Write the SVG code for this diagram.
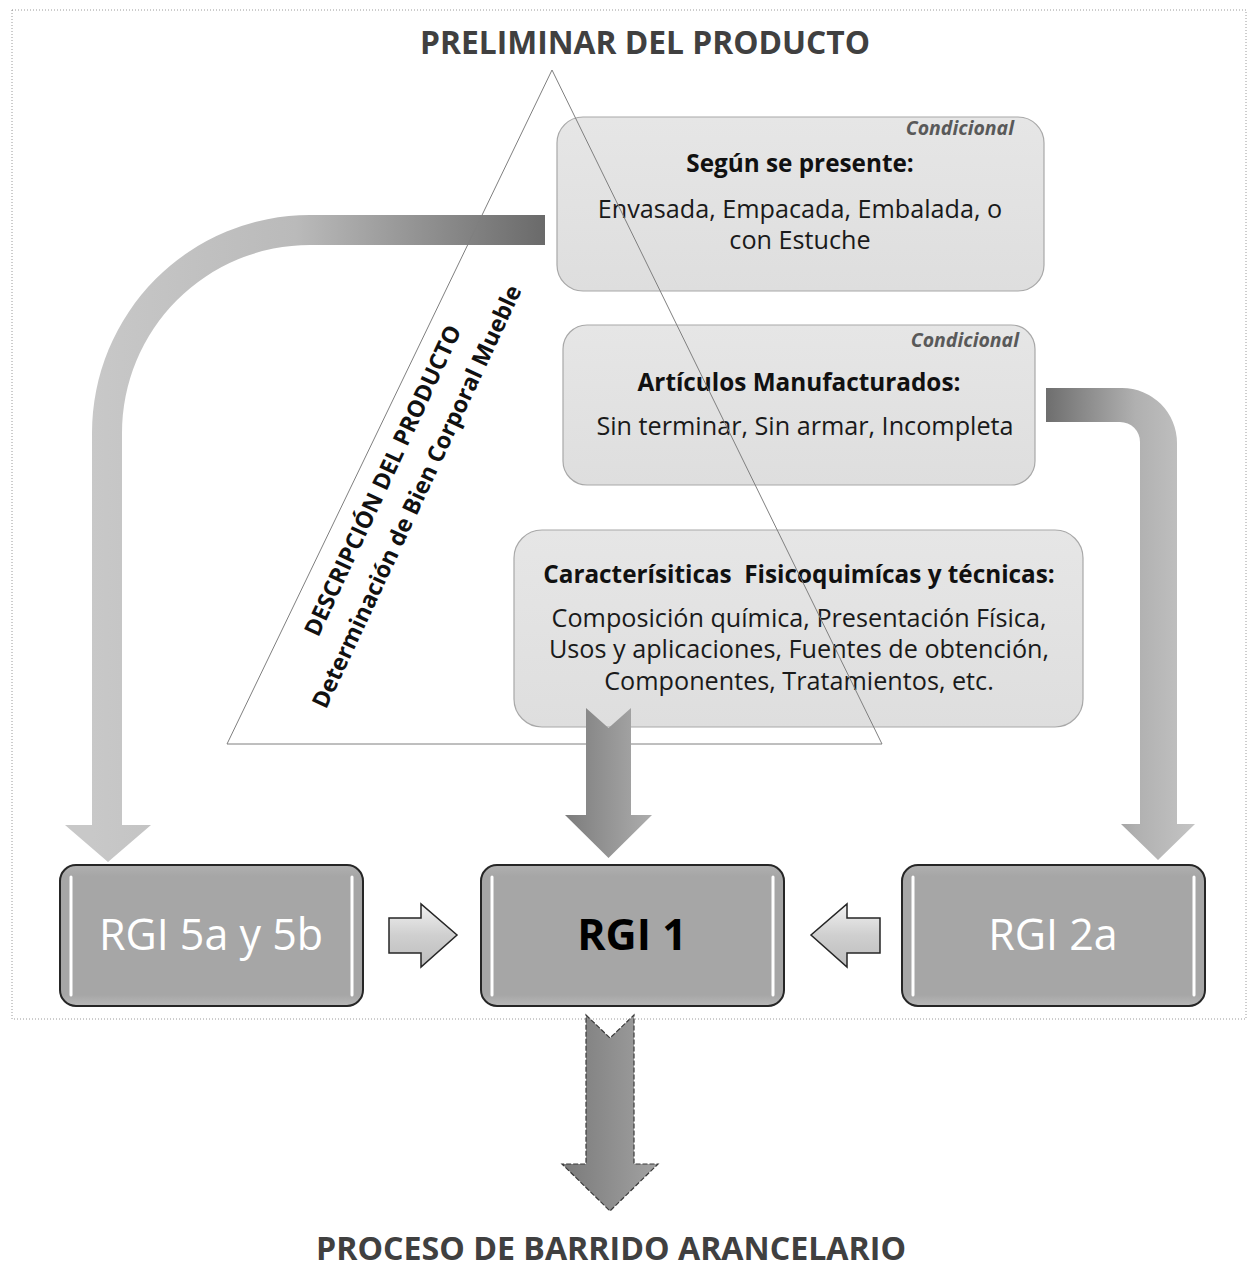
<svg xmlns="http://www.w3.org/2000/svg" width="1248" height="1268" viewBox="0 0 1248 1268">
<style>
text{font-family:"Open Sans","Noto Sans","Liberation Sans",sans-serif;}
.title{font-weight:bold;fill:#404040;text-anchor:middle;}
.cond{font-weight:bold;font-style:italic;font-size:19.5px;fill:#595959;text-anchor:end;}
.head{font-weight:bold;font-size:24.3px;fill:#111;text-anchor:middle;}
.body{font-size:25.2px;fill:#1a1a1a;text-anchor:middle;}
.rot{font-weight:bold;font-size:23.2px;fill:#111;text-anchor:middle;}
.card{fill:url(#cardG);stroke:#a8a8a8;stroke-width:1.2;}
.rgi{fill:url(#rgiG);stroke:#262626;stroke-width:2;}
.hl{stroke:#fff;stroke-width:3;stroke-linecap:round;fill:none;}
.rgitxt{font-size:43px;text-anchor:middle;}
.small{fill:url(#smallG);stroke:#262626;stroke-width:1.5;stroke-linejoin:miter;}
</style>
<defs>
<linearGradient id="cardG" x1="0" y1="0" x2="0" y2="1">
<stop offset="0" stop-color="#e6e6e6"/><stop offset="1" stop-color="#dedede"/>
</linearGradient>
<linearGradient id="rgiG" x1="0" y1="0" x2="0" y2="1">
<stop offset="0" stop-color="#b0b0b0"/><stop offset="0.08" stop-color="#a6a6a6"/><stop offset="0.92" stop-color="#a6a6a6"/><stop offset="1" stop-color="#b8b8b8"/>
</linearGradient>
<linearGradient id="leftG" gradientUnits="userSpaceOnUse" x1="92" y1="0" x2="545" y2="0">
<stop offset="0" stop-color="#c8c8c8"/><stop offset="0.45" stop-color="#bababa"/><stop offset="1" stop-color="#6a6a6a"/>
</linearGradient>
<linearGradient id="rightG" gradientUnits="userSpaceOnUse" x1="1046" y1="0" x2="1195" y2="0">
<stop offset="0" stop-color="#6e6e6e"/><stop offset="0.6" stop-color="#b0b0b0"/><stop offset="1" stop-color="#c4c4c4"/>
</linearGradient>
<linearGradient id="centerG" gradientUnits="userSpaceOnUse" x1="565" y1="0" x2="652" y2="0">
<stop offset="0" stop-color="#7c7c7c"/><stop offset="1" stop-color="#adadad"/>
</linearGradient>
<linearGradient id="downG" gradientUnits="userSpaceOnUse" x1="562" y1="0" x2="658" y2="0">
<stop offset="0" stop-color="#7a7a7a"/><stop offset="1" stop-color="#a2a2a2"/>
</linearGradient>
<linearGradient id="smallG" x1="0" y1="0" x2="0" y2="1">
<stop offset="0" stop-color="#f2f2f2"/><stop offset="0.5" stop-color="#cfcfcf"/><stop offset="1" stop-color="#bdbdbd"/>
</linearGradient>
</defs>

<g id="connectors">
<path id="arrow-left-curve" fill="url(#leftG)" d="M545,215 L310,215 A218,218 0 0 0 92,433 L92,825 L65,825 L108,862 L151,825 L122,825 L122,433 A188,188 0 0 1 310,245 L545,245 Z"/>
<path id="arrow-right-curve" fill="url(#rightG)" d="M1046,388 L1122,388 A55,55 0 0 1 1177,443 L1177,824 L1195,824 L1158,860 L1121,824 L1140,824 L1140,442 A20,20 0 0 0 1120,422 L1046,422 Z"/>
</g>

<g id="box-segun">
<rect class="card" x="557" y="117" width="487" height="174" rx="26"/>
<text class="cond" x="1014" y="135">Condicional</text>
<text class="head" x="800" y="172">Según se presente:</text>
<text class="body" x="800" y="218">Envasada, Empacada, Embalada, o</text>
<text class="body" x="800" y="249">con Estuche</text>
</g>

<g id="box-articulos">
<rect class="card" x="563" y="325" width="472" height="160" rx="24"/>
<text class="cond" x="1019" y="347">Condicional</text>
<text class="head" x="799" y="391">Artículos Manufacturados:</text>
<text class="body" x="805" y="435">Sin terminar, Sin armar, Incompleta</text>
</g>

<g id="box-caracteristicas">
<rect class="card" x="514" y="530" width="569" height="197" rx="28"/>
<text class="head" x="799" y="583">Caracterísiticas&#160; Fisicoquimícas y técnicas:</text>
<text class="body" x="799" y="627">Composición química, Presentación Física,</text>
<text class="body" x="799" y="658">Usos y aplicaciones, Fuentes de obtención,</text>
<text class="body" x="799" y="690">Componentes, Tratamientos, etc.</text>
</g>

<g id="triangle">
<polygon points="552,70 227,744 882,744" fill="none" stroke="#7f7f7f" stroke-width="1"/>
<text class="rot" transform="translate(390,484) rotate(-65)">DESCRIPCIÓN DEL PRODUCTO</text>
<text class="rot" transform="translate(424,500) rotate(-65)">Determinación de Bien Corporal Mueble</text>
</g>

<g id="arrow-center">
<path fill="url(#centerG)" d="M586,708 L608.5,728 L631,708 L631,815 L652,815 L608.5,858 L565,815 L586,815 Z"/>
</g>

<g id="rgi-5">
<rect class="rgi" x="60" y="865" width="303" height="141" rx="16"/>
<line class="hl" x1="71" y1="877" x2="71" y2="995"/>
<line class="hl" x1="352" y1="877" x2="352" y2="995"/>
<text class="rgitxt" x="211" y="950" fill="#ffffff">RGI 5a y 5b</text>
</g>

<g id="rgi-1">
<rect class="rgi" x="481" y="865" width="303" height="141" rx="16"/>
<line class="hl" x1="492" y1="877" x2="492" y2="995"/>
<line class="hl" x1="773" y1="877" x2="773" y2="995"/>
<text class="rgitxt" x="632" y="950" fill="#000" font-weight="bold">RGI 1</text>
</g>

<g id="rgi-2a">
<rect class="rgi" x="902" y="865" width="303" height="141" rx="16"/>
<line class="hl" x1="913" y1="877" x2="913" y2="995"/>
<line class="hl" x1="1194" y1="877" x2="1194" y2="995"/>
<text class="rgitxt" x="1053" y="950" fill="#ffffff">RGI 2a</text>
</g>

<g id="small-arrows">
<polygon class="small" points="389,918 421,918 421,904 457,935 421,967 421,953 389,953"/>
<polygon class="small" points="880,918 847,918 847,904 811,935 847,967 847,953 880,953"/>
</g>

<g id="arrow-down">
<path fill="url(#downG)" stroke="#3a3a3a" stroke-width="1.2" stroke-dasharray="5,2" d="M586,1015 L610,1038 L634,1015 L634,1164 L658,1164 L610,1211 L562,1164 L586,1164 Z"/>
</g>

<rect id="frame" x="12" y="10" width="1234" height="1009" fill="none" stroke="#9a9a9a" stroke-width="1" stroke-dasharray="1,2"/>

<text class="title" x="645" y="54" font-size="32" textLength="450" lengthAdjust="spacingAndGlyphs">PRELIMINAR DEL PRODUCTO</text>
<text class="title" x="611" y="1260" font-size="32" textLength="590" lengthAdjust="spacingAndGlyphs">PROCESO DE BARRIDO ARANCELARIO</text>
</svg>
